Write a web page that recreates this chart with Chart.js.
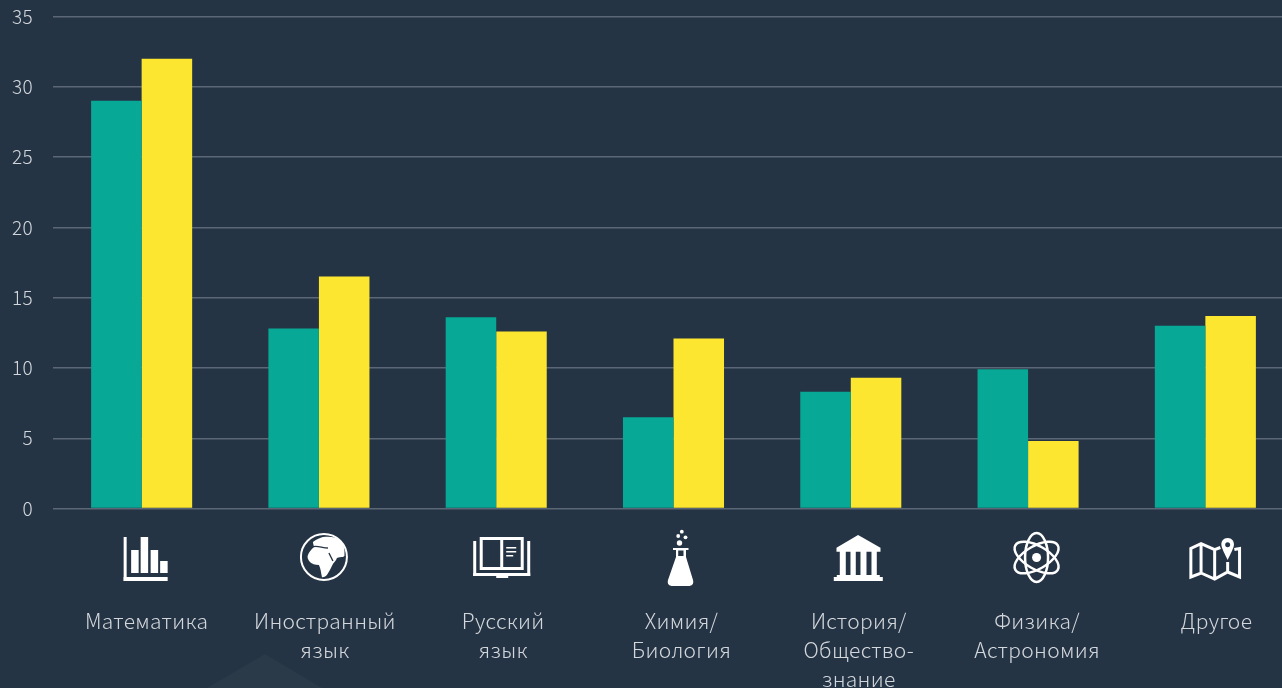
<!DOCTYPE html>
<html lang="ru">
<head>
<meta charset="utf-8">
<title>Предметы</title>
<script src="https://cdn.jsdelivr.net/npm/chart.js@4"></script>
<style>
  html, body { margin: 0; padding: 0; background: #253445; overflow: hidden; }
  canvas { display: block; }
</style>
</head>
<body>
<canvas id="chart1" width="1294" height="688"></canvas>
<script>
const categories = [
    ['Математика'],
    ['Иностранный', 'язык'],
    ['Русский', 'язык'],
    ['Химия/', 'Биология'],
    ['История/', 'Общество-', 'знание'],
    ['Физика/', 'Астрономия'],
    ['Другое']
];
const seriesGreen = [29, 12.8, 13.6, 6.5, 8.3, 9.9, 13];
const seriesYellow = [32, 16.5, 12.6, 12.1, 9.3, 4.8, 13.7];
const yTicks = [0, 5, 10, 15, 20, 25, 30, 35];

// подписи и иконки в оригинале стоят чуть правее столбцов
const labelShift = [5, 6, 7, 8, 8, 9, 11];
const iconBox = [[-18, 537], [-19, 534], [-23, 537], [-6, 530], [-17, 535], [-14, 532], [-16, 538]];

const white = '#ffffff';
const background = '#253445';

function fillRects(ctx, rects) {
    rects.forEach(r => ctx.fillRect(r[0], r[1], r[2], r[3]));
}

const icons = [
    // столбики
    ctx => fillRects(ctx, [[0, 0, 3, 44], [0, 40, 44, 4], [7.5, 13, 7.5, 23], [17, 0, 7.5, 36], [27, 13, 7.5, 23], [36.5, 24, 7.5, 12]]),
    // глобус
    ctx => {
        ctx.lineWidth = 2;
        ctx.beginPath();
        ctx.arc(24, 23, 23, 0, Math.PI * 2);
        ctx.stroke();
        ctx.fill(new Path2D('M13,8 C17,5 20,4 23,3 C30,2 36,3 40,6 C44,10 45,15 44.5,22 L43,23 C41,23 39,23 37,24 C36,27 34,28 33,30 C31,34 29,38 27,41 C25,43 23,43.5 22,43 C21,39 21,35 19,31 C15,31 12,30 10,28 C8,26 7,23 8,21 C9,18 11,16 13,14 C15,13 13,10 13,8 Z'));
        ctx.strokeStyle = background;
        ctx.lineWidth = 1.4;
        ctx.stroke(new Path2D('M12,13 C17,11 22,14 28,14 M29,19 L33,27'));
    },
    // книга
    ctx => {
        ctx.lineWidth = 3;
        ctx.strokeRect(8, 1.5, 41, 30);
        fillRects(ctx, [[27, 1, 3, 31], [0, 4, 3, 35], [54, 4, 3, 35], [0, 36, 57, 3], [23, 39, 12, 2], [33, 10, 10, 1.5], [33, 14, 10, 1.5], [33, 18, 7, 1.5]]);
    },
    // колба
    ctx => {
        [[14.3, 1.7, 1.9], [10.7, 6, 1.9], [18, 7.3, 1.9], [12, 13, 2.7]].forEach(c => {
            ctx.beginPath();
            ctx.arc(c[0], c[1], c[2], 0, Math.PI * 2);
            ctx.fill();
        });
        ctx.fill(new Path2D('M5.5,18 H21 V20 H18.5 V27 L25.5,50 Q27,55 22,56 H4 Q-1,55 .5,50 L8.5,27 V20 H5.5 Z M10.7,20.5 V26 H16 V20.5 Z'), 'evenodd');
    },
    // здание
    ctx => {
        ctx.fill(new Path2D('M24.3,0 L46.7,12.7 V16.7 H2.7 V12.7 Z'));
        fillRects(ctx, [[6, 16, 6, 25], [16.7, 16, 5.3, 25], [26.7, 16, 6, 25], [37.7, 16, 5.3, 25], [3, 40, 43, 2], [0, 42, 49, 4]]);
    },
    // атом
    ctx => {
        ctx.lineWidth = 2.5;
        [Math.PI / 2, Math.PI / 6, -Math.PI / 6].forEach(a => {
            ctx.beginPath();
            ctx.ellipse(22.5, 25.5, 24.5, 11.5, a, 0, Math.PI * 2);
            ctx.stroke();
        });
        ctx.beginPath();
        ctx.arc(22.5, 25.5, 4.5, 0, Math.PI * 2);
        ctx.fill();
    },
    // карта
    ctx => {
        ctx.lineWidth = 3;
        ctx.stroke(new Path2D('M31,9.5 L25.3,11.7 L11.7,5.7 L1.5,10.5 V39 L11.7,35 L25.3,41 L38.3,34 L50.2,39 V10.5 L45,11.5 M11.7,5.7 V35 M25.3,11.7 V41 M38.3,24 V34'));
        ctx.fill(new Path2D('M38.3,0 C34,0 32,3 32,6.5 C32,10 36,17 38.3,22 C40.6,17 44.6,10 44.6,6.5 C44.6,3 42.6,0 38.3,0 Z M38.3,4.3 C40,4.3 40.8,5.5 40.8,6.7 C40.8,8 40,9.2 38.3,9.2 C36.6,9.2 35.8,8 35.8,6.7 C35.8,5.5 36.6,4.3 38.3,4.3 Z'), 'evenodd');
    }
];

const decor = {
    id: 'decor',
    beforeDraw(chart) {
        const ctx = chart.ctx;
        // бледный треугольник внизу
        ctx.save();
        ctx.fillStyle = '#2b3a49';
        ctx.beginPath();
        ctx.moveTo(265, 654);
        ctx.lineTo(322, 688);
        ctx.lineTo(207, 688);
        ctx.closePath();
        ctx.fill();
        ctx.restore();
        // сдвигаем подписи оси x по одной
        const x = chart.scales.x;
        x.getLabelItems(chart.chartArea).forEach((item, i) => {
            item.options.translation[0] = x.getPixelForTick(i) + labelShift[i];
        });
        ctx.letterSpacing = '0.3px';
    },
    afterDraw(chart) {
        const ctx = chart.ctx;
        const x = chart.scales.x;
        ctx.letterSpacing = '0px';
        icons.forEach((draw, i) => {
            ctx.save();
            ctx.translate(x.getPixelForTick(i) + iconBox[i][0], iconBox[i][1]);
            ctx.fillStyle = white;
            ctx.strokeStyle = white;
            draw(ctx);
            ctx.restore();
        });
    }
};

new Chart(document.getElementById('chart1'), {
    type: 'bar',
    data: {
        labels: categories,
        datasets: [
            { data: seriesGreen, backgroundColor: '#07a996' },
            { data: seriesYellow, backgroundColor: '#fde62f' }
        ]
    },
    options: {
        responsive: false,
        animation: false,
        categoryPercentage: 0.57,
        barPercentage: 1,
        layout: { padding: { top: 16.5, right: 0, bottom: 0, left: 0 } },
        plugins: { legend: { display: false }, tooltip: { enabled: false }, title: { display: false } },
        scales: {
            x: {
                grid: { display: false, drawTicks: false },
                border: { display: false },
                afterFit: scale => {
                    scale.height = 179.5;
                    scale.paddingLeft = 0;
                    scale.paddingRight = 0;
                },
                ticks: {
                    autoSkip: false,
                    maxRotation: 0,
                    minRotation: 0,
                    padding: 98,
                    color: '#d3d7dc',
                    font: { family: '"Noto Sans CJK SC", "Noto Sans"', size: 21, weight: '300', lineHeight: 1.38 }
                }
            },
            y: {
                min: 0,
                max: 35,
                afterFit: scale => {
                    scale.width = 53;
                    scale.paddingTop = 0;
                    scale.paddingBottom = 0;
                },
                afterBuildTicks: scale => { scale.ticks = yTicks.map(v => ({ value: v })); },
                grid: { color: '#5b6776', lineWidth: 1.4, drawTicks: false },
                border: { display: false },
                ticks: {
                    padding: 20,
                    color: '#d3d7dc',
                    font: { family: '"Noto Sans CJK SC", "Noto Sans"', size: 19, weight: '300' }
                }
            }
        }
    },
    plugins: [decor]
});
</script>
</body>
</html>
